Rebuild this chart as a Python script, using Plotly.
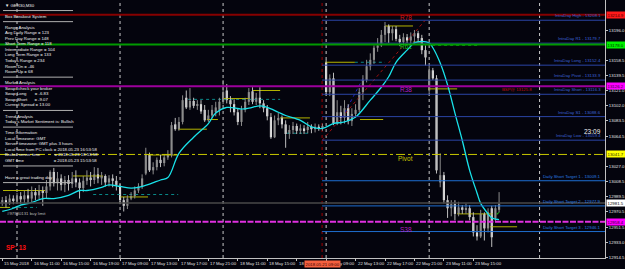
import plotly.graph_objects as go

BG = "#04040d"
FONT = "Liberation Sans, Arial, sans-serif"
FS = 4.3

# ---------------- candles (bar index, OHLC) ----------------
bars = list(range(-4, 132))
opens = [12981, 12985, 12981, 12987, 12984, 12990, 12986, 12991, 12987, 12995, 12991, 12997, 12994, 13002, 13020, 13006,
         13012, 13004, 13010, 13005, 13012, 13007, 13000, 13009, 13013, 13010, 13017, 13012, 13015, 13007, 13012, 13009,
         13002, 12985, 12978, 12987, 12990, 12997, 13002, 13018, 13041, 13022, 13026, 13035, 13031, 13038, 13041, 13079,
         13073, 13082, 13112, 13100, 13108, 13102, 13104, 13097, 13084, 13090, 13094, 13097, 13107, 13121, 13109, 13104,
         13094, 13082, 13097, 13107, 13120, 13107, 13112, 13105, 13099, 13088, 13063, 13084, 13087, 13079, 13067, 13072,
         13077, 13071, 13074, 13072, 13076, 13073, 13076, 13074, 13156, 13119, 13136, 13080, 13094, 13087, 13099, 13083,
         13092, 13097, 13119, 13134, 13151, 13159, 13174, 13177, 13190, 13201, 13192, 13197, 13185, 13181, 13187, 13183,
         13188, 13192, 13186, 13171, 13121, 13146, 13136, 13007, 13016, 12985, 12975, 12980, 12968, 12976, 12973, 12975,
         12964, 12945, 12940, 12968, 12950, 12975, 12963, 12973]
highs = [12989, 12990, 12992, 12991, 12994, 12995, 12997, 12999, 13002, 13000, 13004, 13002, 13010, 13022, 13025, 13020,
         13017, 13015, 13016, 13020, 13022, 13012, 13015, 13022, 13020, 13026, 13025, 13020, 13017, 13016, 13017, 13015,
         13005, 12989, 12991, 12995, 13002, 13006, 13017, 13050, 13044, 13032, 13038, 13041, 13042, 13047, 13082, 13087,
         13088, 13115, 13121, 13124, 13112, 13109, 13109, 13103, 13097, 13103, 13107, 13112, 13134, 13129, 13114, 13110,
         13099, 13102, 13112, 13124, 13125, 13118, 13125, 13109, 13103, 13093, 13090, 13093, 13090, 13084, 13078, 13082,
         13080, 13079, 13078, 13082, 13079, 13080, 13079, 13080, 13159, 13141, 13143, 13109, 13102, 13109, 13104, 13099,
         13104, 13124, 13140, 13159, 13167, 13177, 13186, 13196, 13206, 13203, 13201, 13201, 13190, 13192, 13191, 13193,
         13196, 13195, 13190, 13177, 13152, 13149, 13140, 13043, 13020, 12991, 12985, 12985, 12983, 12979, 12981, 12979,
         12970, 12954, 12973, 12970, 12975, 12978, 12979, 12995]
lows = [12978, 12976, 12979, 12980, 12981, 12980, 12981, 12980, 12982, 12985, 12986, 12978, 12987, 12997, 13002, 12997,
        12997, 12995, 12997, 13000, 13001, 12987, 12995, 13004, 13002, 13005, 13006, 13004, 13002, 13002, 13001, 12997,
        12980, 12971, 12974, 12985, 12987, 12994, 12999, 13016, 13020, 13017, 13022, 13026, 13027, 13035, 13038, 13071,
        13071, 13079, 13098, 13097, 13099, 13097, 13092, 13082, 13082, 13087, 13089, 13090, 13104, 13105, 13094, 13090,
        13078, 13077, 13094, 13103, 13104, 13103, 13099, 13094, 13084, 13061, 13062, 13078, 13074, 13050, 13061, 13067,
        13067, 13067, 13067, 13068, 13068, 13069, 13071, 13071, 13115, 13114, 13078, 13078, 13079, 13080, 13079, 13077,
        13087, 13094, 13109, 13131, 13146, 13154, 13169, 13175, 13181, 13180, 13183, 13182, 13176, 13178, 13180, 13178,
        13178, 13181, 13166, 13152, 13118, 13134, 13018, 13001, 12981, 12963, 12965, 12960, 12965, 12968, 12968, 12960,
        12940, 12935, 12938, 12935, 12945, 12927, 12958, 12970]
closes = [12985, 12981, 12987, 12984, 12990, 12986, 12991, 12987, 12995, 12991, 12997, 12994, 13002, 13020, 13006, 13012,
          13004, 13010, 13005, 13012, 13007, 13000, 13009, 13013, 13010, 13017, 13012, 13015, 13007, 13012, 13009, 13004,
          12985, 12978, 12987, 12990, 12997, 13002, 13012, 13041, 13022, 13026, 13035, 13031, 13038, 13041, 13078, 13073,
          13082, 13109, 13100, 13108, 13102, 13104, 13095, 13084, 13090, 13097, 13100, 13107, 13119, 13109, 13104, 13094,
          13082, 13097, 13107, 13119, 13107, 13112, 13105, 13099, 13089, 13063, 13084, 13087, 13079, 13067, 13072, 13077,
          13071, 13074, 13072, 13076, 13073, 13076, 13074, 13077, 13119, 13136, 13080, 13094, 13087, 13099, 13083, 13092,
          13097, 13119, 13134, 13151, 13159, 13174, 13177, 13190, 13201, 13192, 13197, 13185, 13181, 13187, 13183, 13188,
          13192, 13186, 13171, 13162, 13146, 13136, 13022, 13016, 12985, 12975, 12980, 12968, 12976, 12973, 12975, 12964,
          12945, 12940, 12968, 12950, 12970, 12939, 12975, 12981]

# ---------------- moving average (cyan) ----------------
ma_bars = [-4, -1, 1, 4, 7, 10, 14, 17, 19, 23, 25, 28, 31, 33, 36, 39, 41, 44, 48, 52, 54, 57, 61, 63, 66, 68, 71,
           73, 77, 80, 83, 86, 89, 92, 96, 99, 101, 103, 106, 108, 110, 112, 113, 115, 117, 119, 121, 123, 125, 126,
           128, 129, 131]
ma_vals = [12971, 12975, 12979, 12982, 12987, 12987, 12991, 12997, 12997, 13001, 13004, 13002, 13000, 13001, 13005,
           13010, 13013, 13043, 13063, 13080, 13093, 13100, 13098, 13099, 13102, 13100, 13094, 13090, 13084, 13076,
           13074, 13080, 13082, 13088, 13109, 13125, 13138, 13156, 13171, 13180, 13182, 13180, 13174, 13155, 13128,
           13093, 13059, 13022, 12994, 12981, 12968, 12963, 12961]

# ---------------- axes ----------------
xtick_bars = [-4, 4, 12, 20, 28, 36, 44, 52, 60, 68, 76, 84, 92, 100, 108, 116, 124]
xtick_text = ["15 May 2018", "16 May 11:00", "16 May 15:00", "16 May 19:00", "17 May 09:00", "17 May 13:00",
              "17 May 17:00", "17 May 21:00", "18 May 11:00", "18 May 15:00", "18 May 19:00", "22 May 09:00",
              "22 May 13:00", "22 May 17:00", "22 May 21:00", "23 May 11:00", "23 May 15:00"]
ytick_vals = [13196.0, 13158.5, 13139.5, 13121.0, 13102.0, 13083.5, 13064.5, 13027.0, 13008.5, 12989.5,
              12970.5, 12951.5, 12933.0, 12914.5]
ytick_text = ["%.1f" % v for v in ytick_vals]
x_range = [-4.62, 159.78]
y_range = [12913.3, 13233.2]

day_separator_bars = [0, 28, 56, 84, 112, 142]
vline_bar = 82.9
vline_label = "2018.05.21 09:00"

# ---------------- horizontal levels ----------------
level_prices = [13214.9, 13178.0, 13126.2, 13041.7, 12981.5, 12958.4]
level_colors = ["#860000", "#009a00", "#9c009c", "#c8c800", "#484848", "#e030e0"]
level_dash = ["solid", "solid", "solid", "dashdot", "solid", "6px,1.5px"]
level_width = [2, 2, 2, 1, 1.5, 2]
tag_bg = ["#ff1a1a", "#00f000", "#ff00ff", "#ffff00", "#ffffff", "#ff00ff"]
tag_fg = ["#4a0000", "#002a00", "#3a003a", "#2a2a00", "#000000", "#2a002a"]

intraday_names = ["IntraDay High", "IntraDay R1", "IntraDay Long", "IntraDay Pivot", "IntraDay Short",
                  "IntraDay S1", "IntraDay Low"]
intraday_vals = [13208.1, 13179.7, 13152.4, 13133.9, 13116.3, 13088.6, 13059.4]
daily_names = ["Daily Short Target 1", "Daily Short Target 2", "Daily Short Target 3"]
daily_vals = [13009.1, 12977.9, 12946.1]

yellow_start = [-4.6, -3.8, 15.2, 28.0, 35.6, 43.8, 51.6, 56.0, 63.9, 71.5, 83.7, 93.2, 100.0, 107.6, 111.7, 119.6, 128.5]
yellow_end = [-1.9, 7.6, 23.4, 35.6, 43.8, 51.6, 54.6, 63.3, 71.5, 79.6, 91.8, 99.5, 107.6, 110.3, 119.6, 129.3, 135.9]
yellow_price = [12976, 12997, 13015, 12989, 13041, 13073, 13085, 13111, 13121, 13087, 13156, 13085, 13201, 13181,
                13123, 12968, 12952]
teal_start = [-4.6, 20.7, 46.5, 73.4, 91.8]
teal_end = [5.4, 43.8, 71.5, 79.6, 100.0]
teal_price = [12976, 12992, 13110, 13068, 13156]
green_dot_start = [112.8]
green_dot_end = [125.8]
green_dot_price = [13177]

fib_labels = ["R78", "R61", "R38", "Pivot", "S38"]
fib_prices = [13211, 13175, 13122, 13037, 12949]
fib_colors = ["#d01818", "#18c018", "#b020c0", "#c8c800", "#b020c0"]
fib_label_bar = 105.6
fib_line = ([82.9, 110.9], [13059, 13208])
zigzag_line = ([88.3, 94.0], [13087, 13136])

panel_rows = ["\u25bc GER30,M30", "-", "Box Breakout System", "-", "Range Analysis",
              "Avg Daily Range = 123", "Prev Day Range = 148", "Short Term Range = 118",
              "Intermediate Range = 104", "Long Term Range = 133", "Todays Range = 234",
              "Room Dn = -46", "Room Up = 68", "-", "Market Analysis", "Swap: check your broker",
              "Swap Long" + "\u00a0" * 7 + "= -6.83", "Swap Short" + "\u00a0" * 6 + "= -9.07",
              "Current Spread = 13.00", "-", "Trend Analysis", "Today's Market Sentiment is: Bullish", "-",
              "Time Information", "Local timezone: GMT", "Server timezone: GMT plus 3 hours",
              "Local time from PC clock = 2018.05.23 16:53:58",
              "Broker server time" + "\u00a0" * 12 + "= 2018.05.23 18:53:58",
              "GMT time" + "\u00a0" * 25 + "= 2018.05.23 15:53:58", "-", "", "Have a great trading day", "-"]

# ---------------- figure ----------------
W, H = 625, 269
PW, PH = 605, 258


def px_x(p):
    return p / PW


def px_y(p):
    return 1 - p / PH


fig = go.Figure()
shapes = []
ann = []

# day separators and vertical object line
for b in day_separator_bars:
    shapes.append(dict(type="line", xref="x", yref="paper", x0=b, x1=b, y0=0, y1=1, layer="below",
                       line=dict(color="#c8c8c8", width=1, dash="dot")))
shapes.append(dict(type="line", xref="x", yref="paper", x0=vline_bar, x1=vline_bar, y0=0, y1=1, layer="below",
                   line=dict(color="#a00000", width=1, dash="dot")))

# diagonals
fig.add_trace(go.Scatter(x=fib_line[0], y=fib_line[1], mode="lines",
                         line=dict(color="#a01010", width=1, dash="dot"), hoverinfo="skip"))
fig.add_trace(go.Scatter(x=zigzag_line[0], y=zigzag_line[1], mode="lines",
                         line=dict(color="#2020c0", width=1, dash="dot"), hoverinfo="skip"))


# segments
def seg_trace(xs0, xs1, ys, color, dash, width):
    xx, yy = [], []
    for a, b, v in zip(xs0, xs1, ys):
        xx += [a, b, None]
        yy += [v, v, None]
    return go.Scatter(x=xx, y=yy, mode="lines", line=dict(color=color, width=width, dash=dash),
                      hoverinfo="skip")


fig.add_trace(seg_trace(teal_start, teal_end, teal_price, "#0a8a8a", "dot", 1))
fig.add_trace(seg_trace(green_dot_start, green_dot_end, green_dot_price, "#10a010", "dot", 1))
fig.add_trace(seg_trace(yellow_start, yellow_end, yellow_price, "#b4b400", "solid", 1))

# intraday / daily lines
start_bar = vline_bar
for n, v in zip(intraday_names, intraday_vals):
    shapes.append(dict(type="line", xref="x", yref="y", x0=start_bar, x1=x_range[1], y0=v, y1=v,
                       line=dict(color="#2b45a6", width=1)))
    ann.append(dict(xref="paper", yref="y", x=px_x(603), y=v, xanchor="right", yanchor="bottom",
                    text="%s - %.1f" % (n, v), showarrow=False, yshift=0,
                    font=dict(family=FONT, size=FS, color="#3d63d6")))
for n, v in zip(daily_names, daily_vals):
    shapes.append(dict(type="line", xref="x", yref="y", x0=start_bar, x1=x_range[1], y0=v, y1=v,
                       line=dict(color="#1f6fd0", width=1)))
    ann.append(dict(xref="paper", yref="y", x=px_x(603), y=v, xanchor="right", yanchor="bottom",
                    text="%s - %.1f" % (n, v), showarrow=False,
                    font=dict(family=FONT, size=FS, color="#2a7ee0")))

# full width levels
for p, c, d, w in zip(level_prices, level_colors, level_dash, level_width):
    shapes.append(dict(type="line", xref="paper", yref="y", x0=0, x1=1, y0=p, y1=p,
                       line=dict(color=c, width=w, dash=d)))

# candles: wicks
for up in (True, False):
    xx, yy = [], []
    for b, o, h, l, c in zip(bars, opens, highs, lows, closes):
        if (c >= o) == up:
            xx += [b, b, None]
            yy += [l, h, None]
    fig.add_trace(go.Scatter(x=xx, y=yy, mode="lines", hoverinfo="skip",
                             line=dict(color="#8c8c8c" if up else "#bdbdbd", width=1)))
# candles: bodies
body_base = [min(o, c) for o, c in zip(opens, closes)]
body_h = [max(abs(c - o), 0.8) for o, c in zip(opens, closes)]
body_col = ["#8e8e8e" if c >= o else "#f4f4f4" for o, c in zip(opens, closes)]
fig.add_trace(go.Bar(x=bars, y=body_h, base=body_base, width=0.58,
                     marker=dict(color=body_col, line=dict(width=0)), hoverinfo="skip"))

# moving average
fig.add_trace(go.Scatter(x=ma_bars, y=ma_vals, mode="lines", line=dict(color="#19e3ea", width=1.3),
                         line_shape="spline", hoverinfo="skip"))

# fib labels
for t, p, c in zip(fib_labels, fib_prices, fib_colors):
    ann.append(dict(xref="x", yref="y", x=fib_label_bar, y=p, text=t, showarrow=False,
                    font=dict(family=FONT, size=6.5, color=c)))
ann.append(dict(xref="x", yref="y", x=131.3, y=13122.5, xanchor="left", text="BSP@ 13125.8", showarrow=False,
                font=dict(family=FONT, size=FS, color="#c01010")))
ann.append(dict(xref="x", yref="y", x=130.8, y=12969, text="\u2714", showarrow=False,
                font=dict(family=FONT, size=5, color="#20c020")))
ann.append(dict(xref="paper", yref="paper", x=px_x(5), y=px_y(217.5), xanchor="left", text="#97980131 buy limit",
                showarrow=False, font=dict(family=FONT, size=FS, color="#b8b8b8")))
ann.append(dict(xref="paper", yref="paper", x=px_x(603), y=px_y(131.5), xanchor="right", text="23:09",
                showarrow=False, font=dict(family=FONT, size=6.5, color="#f0f0f0")))
ann.append(dict(xref="paper", yref="paper", x=px_x(4), y=px_y(253), xanchor="left", text="<b>SP: 13</b>",
                showarrow=False, font=dict(family=FONT, size=6.5, color="#ff1010")))

# info panel
for k, row in enumerate(panel_rows):
    ypx = 5 + 5.55 * k
    if row == "-":
        shapes.append(dict(type="line", xref="paper", yref="paper", x0=px_x(3), x1=px_x(73),
                           y0=px_y(ypx), y1=px_y(ypx), line=dict(color="#b0b0b0", width=1)))
    elif row:
        ann.append(dict(xref="paper", yref="paper", x=px_x(3), y=px_y(ypx), xanchor="left", yanchor="middle",
                        text=row, showarrow=False, font=dict(family=FONT, size=FS, color="#f0f0f0")))

# x tick labels (left aligned like the terminal)
for b, t in zip(xtick_bars, xtick_text):
    ann.append(dict(xref="x", yref="paper", x=b, y=px_y(263.5), xanchor="left", yanchor="middle", text=t,
                    showarrow=False, font=dict(family=FONT, size=FS, color="#e0e0e0")))
ann.append(dict(xref="x", yref="paper", x=vline_bar, y=px_y(263.5), xanchor="center", yanchor="middle",
                text=vline_label, showarrow=False, bgcolor="#f4603f", borderpad=0.6,
                font=dict(family=FONT, size=FS, color="#3a0000")))

# price tags
for p, bgc, fg in zip(level_prices, tag_bg, tag_fg):
    ann.append(dict(xref="paper", yref="y", x=1, y=p, xanchor="left", yanchor="middle", xshift=1,
                    text="%.1f" % p, showarrow=False, bgcolor=bgc, borderpad=0.6, width=17, align="left",
                    font=dict(family=FONT, size=FS, color=fg)))

fig.update_layout(
    template="none", width=W, height=H, showlegend=False, barmode="overlay",
    margin=dict(l=0, r=W - PW, t=0, b=H - PH, pad=0),
    paper_bgcolor=BG, plot_bgcolor=BG, shapes=shapes, annotations=ann,
    xaxis=dict(range=x_range, showgrid=False, zeroline=False, showline=True, linecolor="#c0c0c0", linewidth=1,
               tickvals=xtick_bars, ticks="outside", ticklen=2, tickcolor="#c0c0c0", showticklabels=False,
               automargin=False, fixedrange=True),
    yaxis=dict(range=y_range, side="right", showgrid=False, zeroline=False, showline=True, linecolor="#c0c0c0",
               linewidth=1, tickvals=ytick_vals, ticktext=ytick_text, ticks="outside", ticklen=2,
               tickcolor="#c0c0c0", tickfont=dict(family=FONT, size=FS, color="#e6e6e6"), automargin=False,
               fixedrange=True),
)

fig.write_html("out.html")
